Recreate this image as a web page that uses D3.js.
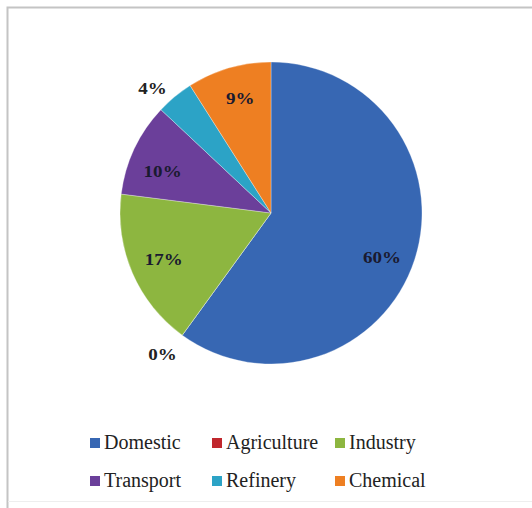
<!DOCTYPE html>
<html><head><meta charset="utf-8">
<script src="https://cdn.jsdelivr.net/npm/d3@7"></script>
<style>body{margin:0;background:#fff}svg{display:block}</style>
</head><body>
<svg id="c" width="532" height="508"></svg>
<script>
const categories = ["Domestic","Agriculture","Industry","Transport","Refinery","Chemical"];
const values = [60, 0, 17, 10, 4, 9];
const labels = ["60%","0%","17%","10%","4%","9%"];
const colors = ["#3767b3","#c0272d","#8db640","#6b3f9a","#2ca3c6","#ee7f22"];
const FONT = "'Liberation Serif','Times New Roman',serif";

const svg = d3.select("#c");
// frame
svg.append("path").attr("d","M7.5,508 V7.5 H532").attr("fill","none").attr("stroke","#c4c4c4").attr("stroke-width",2);
svg.append("line").attr("x1",8).attr("x2",532).attr("y1",501.5).attr("y2",501.5).attr("stroke","#eeeeee");

const cx = 271, cy = 213, r = 151;
const pie = d3.pie().sort(null).value(d => d)(values);
const arc = d3.arc().innerRadius(0).outerRadius(r);
const g = svg.append("g").attr("transform",`translate(${cx},${cy})`);
g.selectAll("path").data(pie).join("path")
  .attr("d", arc).attr("fill",(d,i)=>colors[i])
  .attr("stroke","#ffffff").attr("stroke-width",0.6).attr("stroke-opacity",0.5);

// label positions derived from each slice's mid-angle, with radial factors
const radial = [0.78, 1.02, 0.73, 0.72, 1.18, 0.78];
const shift = [[-1,8],[-18,17],[-6,3],[-10,5],[-5,13],[2,-2]];
g.selectAll("text.lbl").data(pie).join("text").attr("class","lbl")
  .style("font-family",FONT)
  .attr("font-weight","bold").attr("font-size",17)
  .attr("text-anchor","middle").attr("dominant-baseline","central")
  .attr("fill",(d,i)=> (i===1||i===4) ? "#222" : "#1a1a30")
  .attr("transform",(d,i)=>{
    const a = d3.arc().innerRadius(r*radial[i]).outerRadius(r*radial[i]);
    const p = a.centroid(d);
    return `translate(${p[0]+shift[i][0]},${p[1]+shift[i][1]}) scale(1.12,1)`;
  })
  .text((d,i)=>labels[i]);

// legend
const lx = [90, 212, 335];
const ly = [443, 481];
const leg = svg.append("g");
categories.forEach((c,i)=>{
  const x = lx[i%3], y = ly[Math.floor(i/3)];
  leg.append("rect").attr("x",x).attr("y",y-5).attr("width",10).attr("height",10).attr("fill",colors[i]);
  leg.append("text").attr("x",x+14).attr("y",y+6)
    .style("font-family",FONT)
    .attr("font-size",20).attr("fill","#222").text(c);
});
</script>
</body></html>
